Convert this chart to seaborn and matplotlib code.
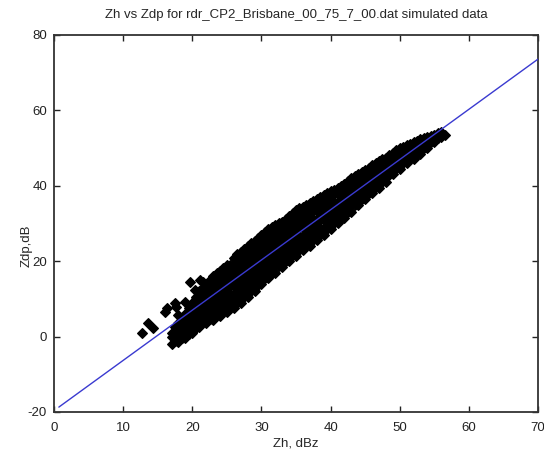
import numpy as np
import pandas as pd
import matplotlib
matplotlib.use('Agg')
import matplotlib.pyplot as plt
import seaborn as sns

# -----------------
# data
# -----------------
title = 'Zh vs Zdp for rdr_CP2_Brisbane_00_75_7_00.dat simulated data'

# main cloud, one column of Zdp values per Zh value
zh_cols = [17.0, 17.5, 18.0, 18.5, 19.0, 19.5, 20.0, 20.5, 21.0, 21.5,
           22.0, 22.5, 23.0, 23.5, 24.0, 24.5, 25.0, 25.5, 26.0, 26.5,
           27.0, 27.5, 28.0, 28.5, 29.0, 29.5, 30.0, 30.5, 31.0, 31.5,
           32.0, 32.5, 33.0, 33.5, 34.0, 34.5, 35.0, 35.5, 36.0, 36.5,
           37.0, 37.5, 38.0, 38.5, 39.0, 39.5, 40.0, 40.5, 41.0, 41.5,
           42.0, 42.5, 43.0, 43.5, 44.0, 44.5, 45.0, 45.5, 46.0, 46.5,
           47.0, 47.5, 48.0, 48.5, 49.0, 49.5, 50.0, 50.5, 51.0, 51.5,
           52.0, 52.5, 53.0, 53.5, 54.0, 54.5, 55.0, 55.5, 56.0, 56.5]
zdp_cols = [
    [-2, 0, 1],
    [-1.2, 0.8, 2.5],
    [-1.5, 0.5, 2.4, 3.5],
    [-0.3, 1.7, 3.6, 4.5],
    [-0.5, 1.4, 3.5, 5.3, 6],
    [0.8, 2.7, 4.6, 6.5, 7.5],
    [1, 3.1, 4.9, 7, 8.8],
    [2.4, 4.3, 6.2, 8.1, 10, 10.5],
    [2.5, 4.6, 6.4, 8.5, 10.3, 12],
    [3.8, 5.7, 7.6, 9.6, 11.5, 13],
    [3.5, 5.4, 7.5, 9.4, 11.3, 13.2, 14],
    [4.7, 6.6, 8.5, 10.4, 12.4, 14.3, 15],
    [4.5, 6.4, 8.3, 10.2, 12.3, 14.1, 16],
    [5.6, 7.5, 9.5, 11.4, 13.3, 15.2, 17],
    [5.5, 7.4, 9.3, 11.3, 13.2, 15.1, 17.3],
    [6.8, 8.7, 10.6, 12.5, 14.5, 16.4, 18.3],
    [6.5, 8.4, 10.3, 12.2, 14.2, 16.1, 18, 19],
    [7.6, 9.5, 11.4, 13.4, 15.3, 17.2, 19.1],
    [7.5, 9.4, 11.3, 13.3, 15.2, 17.1, 19, 20.8],
    [8.8, 10.7, 12.6, 14.5, 16.5, 18.4, 20.3, 21.8],
    [9, 10.9, 12.8, 14.8, 16.7, 18.6, 20.5, 22.4],
    [10.5, 12.4, 14.3, 16.2, 18.2, 20.1, 22, 23.2],
    [10.5, 12.4, 14.4, 16.3, 18.2, 20.1, 22, 24],
    [12, 13.9, 15.8, 17.7, 19.7, 21.6, 23.5, 24.8],
    [12, 13.9, 15.9, 17.8, 19.7, 21.6, 23.5, 25.4],
    [13.6, 15.5, 17.4, 19.3, 21.3, 23.2, 25.1, 26.2],
    [14, 15.9, 17.8, 19.8, 21.7, 23.6, 25.5, 27],
    [15.5, 17.4, 19.3, 21.2, 23.2, 25.1, 27, 27.8],
    [15.5, 17.4, 19.4, 21.3, 23.2, 25.1, 27, 28.5],
    [17, 18.9, 20.8, 22.8, 24.7, 26.6, 28.5, 29],
    [17, 18.9, 20.8, 22.7, 24.7, 26.6, 28.5, 29.5],
    [18.6, 20.5, 22.4, 24.3, 26.3, 28.2, 30],
    [18.5, 20.4, 22.3, 24.3, 26.2, 28.1, 30, 30.5],
    [20, 21.9, 23.8, 25.8, 27.7, 29.6, 31.2],
    [20, 21.9, 23.8, 25.7, 27.7, 29.6, 31.5, 32],
    [21.6, 23.5, 25.4, 27.3, 29.3, 31.2, 32.8],
    [21.5, 23.4, 25.3, 27.3, 29.2, 31.1, 33, 33.5],
    [23, 24.9, 26.8, 28.8, 30.7, 32.6, 34],
    [23, 24.9, 26.8, 28.7, 30.7, 32.6, 34.5],
    [24.3, 26.2, 28.1, 30.1, 32, 33.9, 35],
    [24, 25.9, 27.8, 29.8, 31.7, 33.6, 35.5],
    [25.6, 27.5, 29.4, 31.3, 33.3, 35.2, 36],
    [25.5, 27.4, 29.3, 31.3, 33.2, 35.1, 36.5],
    [27, 28.9, 30.8, 32.8, 34.7, 36.6, 37],
    [27, 28.9, 30.8, 32.7, 34.7, 36.6, 37.5],
    [28.6, 30.5, 32.4, 34.3, 36.3, 38],
    [28.5, 30.4, 32.3, 34.3, 36.2, 38.1, 38.5],
    [30, 31.9, 33.8, 35.8, 37.7, 39],
    [30, 31.9, 33.8, 35.7, 37.7, 39.5],
    [31.6, 33.5, 35.4, 37.3, 39.3, 40],
    [31.5, 33.4, 35.3, 37.3, 39.2, 40.5],
    [33, 34.9, 36.8, 38.8, 40.7, 41.2],
    [33, 34.9, 36.8, 38.7, 40.7, 42],
    [34.8, 36.7, 38.6, 40.5, 42.5],
    [35, 36.9, 38.8, 40.8, 42.7, 43],
    [36.6, 38.5, 40.4, 42.3, 43.6],
    [36.5, 38.4, 40.3, 42.3, 44.2],
    [38, 39.9, 41.8, 43.8, 44.8],
    [38, 39.9, 41.8, 43.7, 45.5],
    [39.6, 41.5, 43.4, 45.3, 46],
    [39.5, 41.4, 43.3, 45.3, 46.6],
    [41, 42.9, 44.8, 46.8, 47],
    [41, 42.9, 44.8, 46.7, 47.5],
    [42.8, 44.7, 46.6, 48.2],
    [43, 44.9, 46.8, 48.8],
    [44.6, 46.5, 48.4, 49.4],
    [44.5, 46.4, 48.3, 50],
    [46, 47.9, 49.8, 50.4],
    [46, 47.9, 49.8, 50.8],
    [47.3, 49.2, 51.2],
    [47, 48.9, 50.8, 51.5],
    [48.6, 50.5, 52],
    [48.5, 50.4, 52.4],
    [50, 51.9, 52.8],
    [50, 51.9, 53],
    [51.6, 53.3],
    [51.5, 53.4],
    [52.8, 54],
    [53, 54.2],
    [53.6],
]

# stray points on the upper-left side of the cloud
zh_stray = [12.7, 13.6, 14.3, 16.0, 16.3, 17.5, 17.7, 17.9, 18.9, 19.7, 20.4, 21.1, 21.5]
zdp_stray = [1.0, 3.6, 2.3, 6.5, 7.6, 8.9, 7.9, 5.7, 9.2, 14.5, 12.4, 15.0, 14.4]

# fitted line
line_zh = [0.7, 70]
line_zdp = [-18.7, 73.6]

zh_pts = [x for x, ys in zip(zh_cols, zdp_cols) for _ in ys] + zh_stray
zdp_pts = [y for ys in zdp_cols for y in ys] + zdp_stray
df = pd.DataFrame({'Zh': zh_pts, 'Zdp': zdp_pts})

# -----------------
# plot
# -----------------
sns.set_style('ticks')
plt.rcParams['font.family'] = ['Liberation Sans', 'DejaVu Sans']
plt.rcParams['axes.unicode_minus'] = False

fig = plt.figure(figsize=(5.44, 4.59), dpi=100)
ax = fig.add_axes([0.0993, 0.1024, 0.8897, 0.8214])

sns.scatterplot(data=df, x='Zh', y='Zdp', marker='D', s=24, color='black',
                edgecolor='black', linewidth=1.0, ax=ax, zorder=2)
sns.lineplot(x=line_zh, y=line_zdp, color='#3a3ad0', linewidth=1.0, ax=ax, zorder=3)

ax.set_xlim(0, 70)
ax.set_ylim(-20, 80)
ax.set_xticks(range(0, 71, 10))
ax.set_yticks(range(-20, 81, 20))
ax.tick_params(direction='in', top=True, right=True, length=4, width=1,
               labelsize=9.5, colors='#222222')
ax.tick_params(axis='x', pad=7)
ax.tick_params(axis='y', pad=5)
for sp in ax.spines.values():
    sp.set_color('#333333')
    sp.set_linewidth(1.3)

ax.set_xlabel('Zh, dBz', fontsize=9.5, labelpad=3)
ax.set_ylabel('Zdp,dB', fontsize=9.5)
ax.yaxis.set_label_coords(-0.045, 0.44)
ax.set_title(title, fontsize=9.5, pad=12)

fig.savefig('out.png', dpi=100)
